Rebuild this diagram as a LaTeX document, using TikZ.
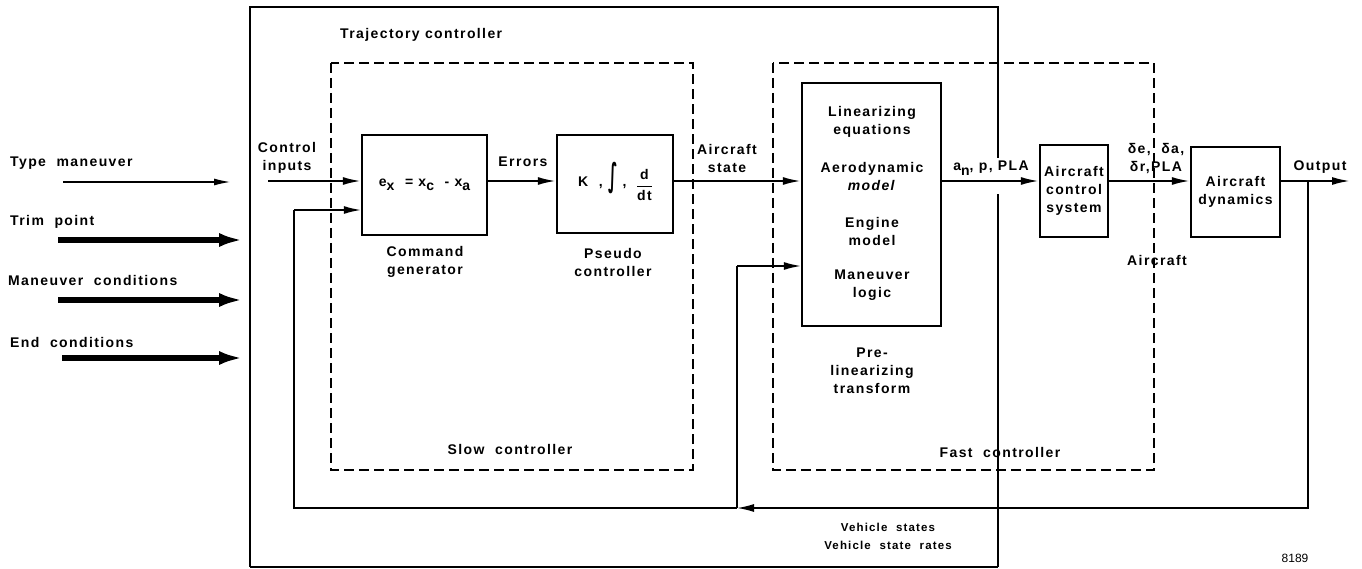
\documentclass[tikz,border=0pt]{standalone}
\usepackage{fontspec}
\setmainfont{Liberation Sans}[LetterSpace=10]
\newfontfamily\plainfont{Liberation Sans}
\newfontfamily\djv{DejaVu Sans}
\usetikzlibrary{arrows.meta}
\newcommand{\lowsub}[1]{\raisebox{-0.6ex}{#1}}
\newcommand{\ddtfrac}{\setlength{\arrayrulewidth}{1.3pt}\renewcommand{\arraystretch}{1.05}\begin{tabular}{@{}c@{}}d\\[1pt]\hline\rule{0pt}{13pt}dt\end{tabular}}
\begin{document}
\begin{tikzpicture}[x=1pt,y=-1pt,
 lbl/.style={font=\fontsize{14}{18}\selectfont\bfseries, align=center, inner sep=0pt},
 lblw/.style={lbl, anchor=west},
 blk/.style={draw, line width=2.4pt, inner sep=0pt, align=center, font=\fontsize{14}{18}\selectfont\bfseries},
 sig/.style={line width=2pt, -{Latex[length=18pt,width=8pt]}},
 fb/.style={line width=1.5pt},
 fbarrow/.style={line width=1.5pt, -{Latex[length=17pt,width=8pt]}},
 bigarrow/.style={line width=5.5pt, -{Latex[length=24pt,width=14pt]}},
 thinarrow/.style={line width=1.1pt, -{Latex[length=16pt,width=7pt]}},
 dbox/.style={line width=2pt, dash pattern=on 10pt off 5pt},
 outer/.style={line width=2.4pt}]
\useasboundingbox (0,0) rectangle (1362,569);

% outer trajectory controller box
\draw[outer] (998,158) -- (998,7) -- (250,7) -- (250,567);
\draw[line width=1.4pt] (250,567) -- (998,567);
\draw[outer] (998,567) -- (998,194);

% dashed boxes
\draw[dbox] (331,63) rectangle (693,470);
\draw[dbox] (773,63) rectangle (1154,470);

% blocks
\node[blk, minimum width=125pt, minimum height=100pt] (cmd) at (424.5,185)
  {e\lowsub{x}\ \ =\ x\lowsub{c}\ \ -\ x\lowsub{a}};
\node[blk, minimum width=116pt, minimum height=98pt] (pc) at (615,184)
  {K\ \ ,\ \scalebox{1.1}[2.3]{\djv\bfseries ∫}\ ,\ \ \raisebox{-0.5ex}{\ddtfrac}};
\node[blk, minimum width=139pt, minimum height=243pt] (pl) at (871.5,204.5) {};
\node[blk, minimum width=68pt, minimum height=92pt] (acs) at (1074,191)
  {Aircraft\\control\\system};
\node[blk, minimum width=89pt, minimum height=90pt] (ad) at (1235.5,192)
  {Aircraft\\dynamics};

% text inside pre-linearizing block
\node[lbl] (t1) at (872,122) {Linearizing\\equations};
\node[lbl] (t2) at (872,177) {Aerodynamic\\\textit{model}};
\node[lbl] (t3) at (872,231) {Engine\\model};
\node[lbl] (t4) at (872,285) {Maneuver\\logic};

% labels
\node[lblw] (trajlbl) at (340,35) {Trajectory\ controller};
\node[lbl] (cilbl) at (287,158) {Control\\inputs};
\node[lbl] (errlbl) at (523,162) {Errors};
\node[lbl] (cglbl) at (425,262) {Command\\generator};
\node[lbl] (pclbl) at (613,262) {Pseudo\\controller};
\node[lbl] (aslbl) at (727,158) {Aircraft\\state};
\node[lbl] (pltlbl) at (872,371) {Pre-\\linearizing\\transform};
\node[lbl] (anlbl) at (991,168) {a\lowsub{n}, p, PLA};
\node[lbl] (dellbl) at (1156,159) {δe,\ \ δa,\\δr,PLA};
\node[lbl] (outlbl) at (1320,167) {Output};
\node[lbl] (aclbl) at (1157,260) {Aircraft};
\node[lbl] (slowlbl) at (510,449) {Slow\ \ controller};
\node[lbl] (fastlbl) at (1000,452) {Fast\ \ controller};
\node[lbl, font=\fontsize{11.5}{18}\selectfont\bfseries] (vslbl) at (888,536) {Vehicle\ \ states\\Vehicle\ \ state\ \ rates};
\node[inner sep=0pt, font=\plainfont\fontsize{12}{13}\selectfont] (fig) at (1295,558) {8189};

% left inputs
\node[lblw] (tmlbl) at (10,163) {Type\ \ maneuver};
\node[lblw] (tplbl) at (10,222) {Trim\ \ point};
\node[lblw] (mclbl) at (8,280) {Maneuver\ \ conditions};
\node[lblw] (eclbl) at (10,342) {End\ \ conditions};
\coordinate (tmA) at (63,182);  \coordinate (tmB) at (230,182);
\coordinate (tpA) at (58,240);  \coordinate (tpB) at (243,240);
\coordinate (mcA) at (58,300);  \coordinate (mcB) at (243,300);
\coordinate (ecA) at (62,358);  \coordinate (ecB) at (243,358);
\draw[thinarrow] (tmA) -- (tmB);
\draw[bigarrow] (tpA) -- (tpB);
\draw[bigarrow] (mcA) -- (mcB);
\draw[bigarrow] (ecA) -- (ecB);

% main signal path
\coordinate (ci) at (268,181);
\coordinate (out) at (1350,181);
\draw[sig] (ci) -- (cmd.west |- ci);
\draw[sig] (cmd.east |- ci) -- (pc.west |- ci);
\draw[sig] (pc.east |- ci) -- (pl.west |- ci);
\draw[sig] (pl.east |- ci) -- (acs.west |- ci);
\draw[sig] (acs.east |- ci) -- (ad.west |- ci);
\draw[sig] (ad.east |- ci) -- (out);

% feedback
\coordinate (tap) at (1308,181);
\coordinate (fbR) at (1308,508);
\coordinate (fbM) at (737,508);
\coordinate (fbL) at (294,508);
\coordinate (fbLt) at (294,210);
\coordinate (fbMt) at (737,266);
\draw[fbarrow] (tap) -- (fbR) -- (fbM);
\draw[fb] (fbM) -- (fbL) -- (fbLt);
\draw[fbarrow] (fbLt) -- (cmd.west |- fbLt);
\draw[fb] (fbM) -- (fbMt);
\draw[fbarrow] (fbMt) -- (pl.west |- fbMt);
\end{tikzpicture}
\end{document}
